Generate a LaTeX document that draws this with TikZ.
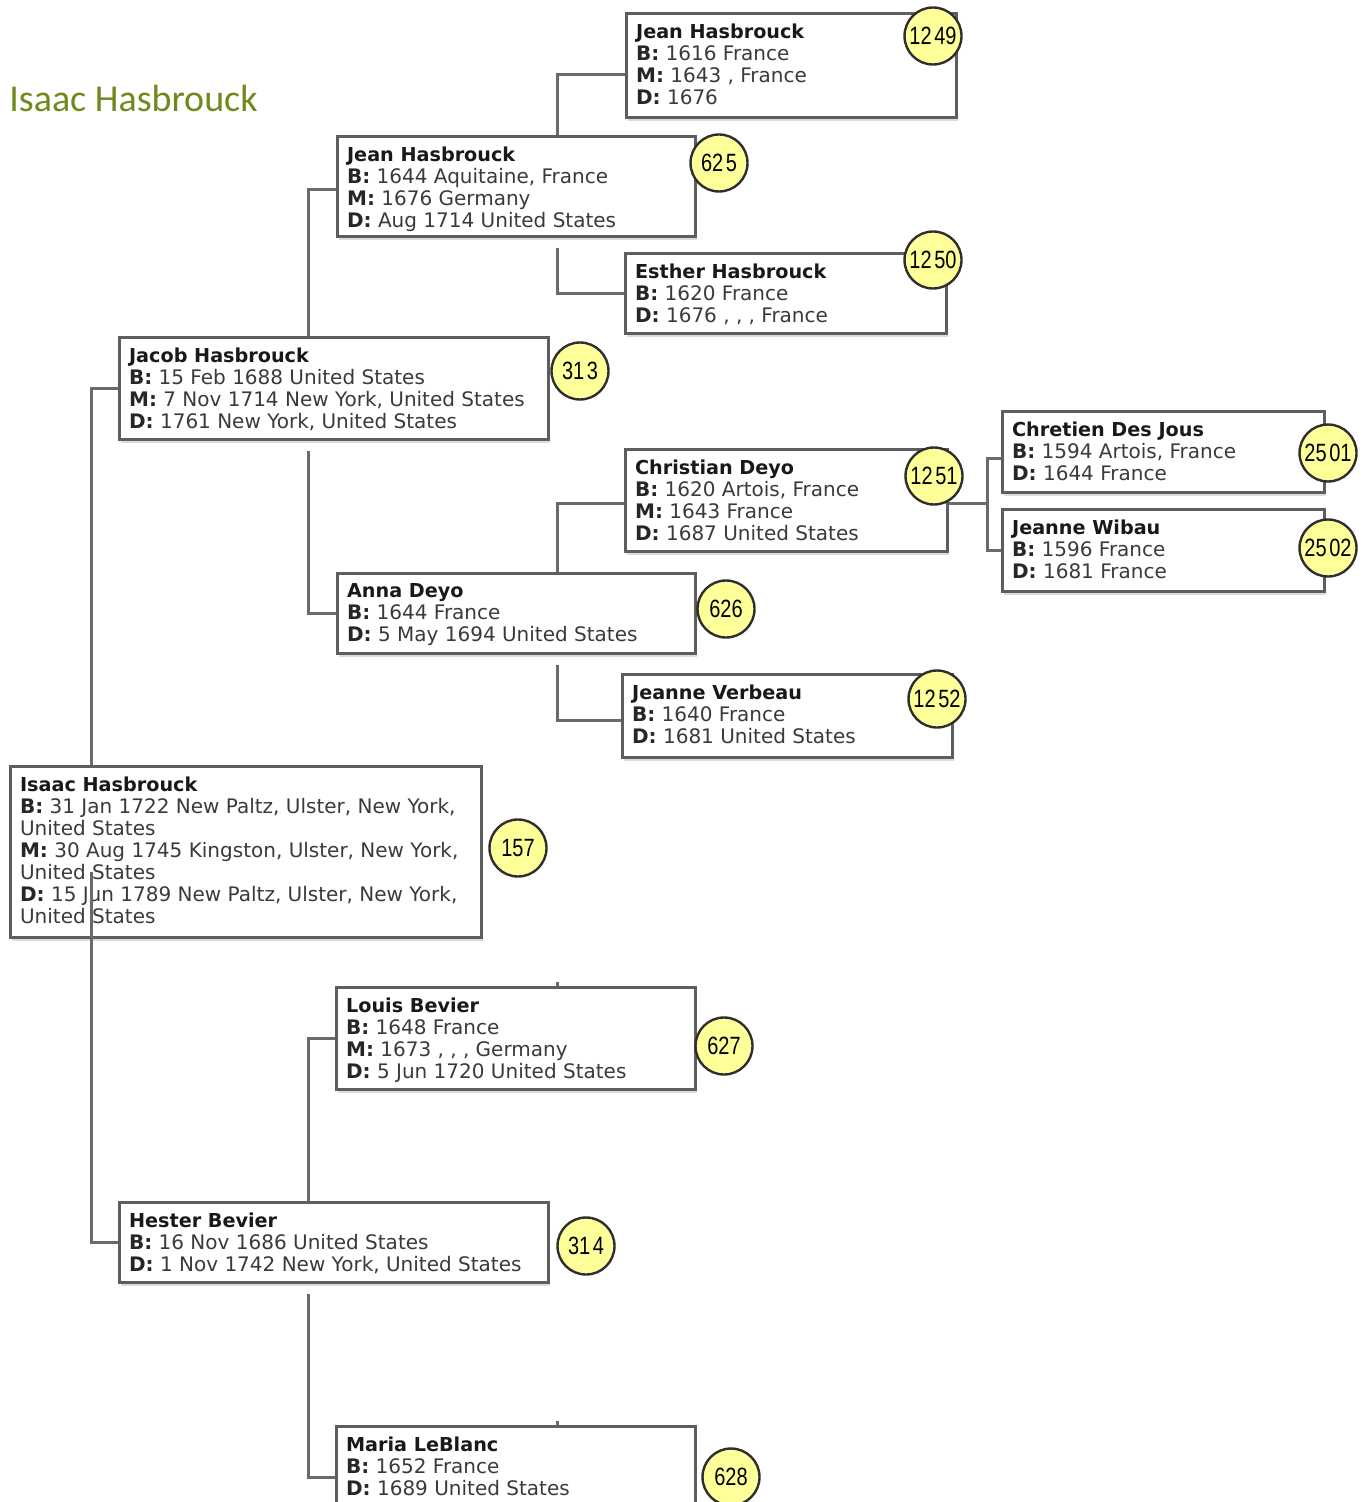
\documentclass[tikz,border=0pt]{standalone}
\usepackage{fontspec}
\usepackage{graphicx}
\setmainfont{DejaVu Sans}
\newfontfamily\titlefont{Carlito}
\newfontfamily\numfont{Liberation Sans}
\usetikzlibrary{shadows}
\definecolor{boxline}{HTML}{5E5E5E}
\definecolor{connline}{HTML}{6A6A6A}
\definecolor{badgefill}{HTML}{FFFF99}
\definecolor{badgeline}{HTML}{2E2E2E}
\definecolor{titlegreen}{HTML}{6F8A1C}
\definecolor{bodytext}{HTML}{3A3A3A}
\newcommand\pinfo[3]{\parbox[c][#2][t]{#1}{\raggedright\leftskip=4.8pt\baselineskip=11pt\vspace*{5pt}\color{bodytext}#3}}
\newcommand\pname[1]{{\fontsize{9.6}{11}\selectfont\bfseries\color{black!90}#1}\\}
\newcommand\lbl[1]{{\bfseries\color{black!85}#1:}~}
\newcommand\gap{\kern1.6pt}
\newcommand\bnum[1]{\scalebox{0.8}[1]{#1}}
\tikzset{
  person/.style={draw=boxline, line width=1.5pt, fill=white, inner sep=0pt, anchor=north west,
    font=\fontsize{10}{11}\selectfont,
    general shadow={fill=black!14, shadow xshift=0.8pt, shadow yshift=-1.6pt}},
  badge/.style={circle, draw=badgeline, line width=1.2pt, fill=badgefill, minimum size=28.5pt,
    inner sep=0pt, font=\numfont\fontsize{12.5}{12.5}\selectfont},
  conn/.style={draw=connline, line width=1.5pt},
}
\begin{document}
\begin{tikzpicture}[x=0.5pt, y=-0.5pt]
\fill[white] (0,0) rectangle (1367,1502);
\clip (0,0) rectangle (1367,1502);

\node[anchor=base west, text=titlegreen, font=\titlefont\fontsize{19}{19}\selectfont, inner sep=0pt] (title) at (9,112) {Isaac Hasbrouck};

% person boxes
\node[person] (n1249) at (625,12) {\pinfo{165pt}{52pt}{\pname{Jean Hasbrouck}\lbl{B}1616 France\\\lbl{M}1643 , France\\\lbl{D}1676}};
\node[person] (n625) at (336,135) {\pinfo{179pt}{50pt}{\pname{Jean Hasbrouck}\lbl{B}1644 Aquitaine, France\\\lbl{M}1676 Germany\\\lbl{D}Aug 1714 United States}};
\node[person] (n1250) at (624,252) {\pinfo{160.5pt}{40pt}{\pname{Esther Hasbrouck}\lbl{B}1620 France\\\lbl{D}1676 , , , France}};
\node[person] (n313) at (118,336) {\pinfo{214.5pt}{51pt}{\pname{Jacob Hasbrouck}\lbl{B}15 Feb 1688 United States\\\lbl{M}7 Nov 1714 New York, United States\\\lbl{D}1761 New York, United States}};
\node[person] (n1251) at (624,448) {\pinfo{161pt}{51pt}{\pname{Christian Deyo}\lbl{B}1620 Artois, France\\\lbl{M}1643 France\\\lbl{D}1687 United States}};
\node[person] (n2501) at (1001,410) {\pinfo{161pt}{40.5pt}{\pname{Chretien Des Jous}\lbl{B}1594 Artois, France\\\lbl{D}1644 France}};
\node[person] (n2502) at (1001,508) {\pinfo{161pt}{41pt}{\pname{Jeanne Wibau}\lbl{B}1596 France\\\lbl{D}1681 France}};
\node[person] (n626) at (336,572) {\pinfo{179pt}{40pt}{\pname{Anna Deyo}\lbl{B}1644 France\\\lbl{D}5 May 1694 United States}};
\node[person] (n1252) at (621,673) {\pinfo{165pt}{41.5pt}{\pname{Jeanne Verbeau}\lbl{B}1640 France\\\lbl{D}1681 United States}};
\node[person] (n157) at (9,765) {\pinfo{235.5pt}{85.5pt}{\pname{Isaac Hasbrouck}\lbl{B}31 Jan 1722 New Paltz, Ulster, New York,\\United States\\\lbl{M}30 Aug 1745 Kingston, Ulster, New York,\\United States\\\lbl{D}15 Jun 1789 New Paltz, Ulster, New York,\\United States}};
\node[person] (n627) at (335,986) {\pinfo{179.5pt}{51pt}{\pname{Louis Bevier}\lbl{B}1648 France\\\lbl{M}1673 , , , Germany\\\lbl{D}5 Jun 1720 United States}};
\node[person] (n314) at (118,1201) {\pinfo{214.5pt}{40pt}{\pname{Hester Bevier}\lbl{B}16 Nov 1686 United States\\\lbl{D}1 Nov 1742 New York, United States}};
\node[person] (n628) at (335,1425) {\pinfo{179.5pt}{51pt}{\pname{Maria LeBlanc}\lbl{B}1652 France\\\lbl{D}1689 United States}};

% connectors
\draw[conn] ([shift={(221,0)}]n625.north west) |- ([shift={(0,9)}]n1249.west);
\draw[conn] ([shift={(221,10)}]n625.south west) |- (n1250.west);
\draw[conn] ([shift={(190,0)}]n313.north west) |- ([shift={(0,3)}]n625.west);
\draw[conn] ([shift={(190,10)}]n313.south west) |- (n626.west);
\draw[conn] ([shift={(221,0)}]n626.north west) |- ([shift={(0,3)}]n1251.west);
\draw[conn] ([shift={(221,10)}]n626.south west) |- ([shift={(0,4)}]n1252.west);
\draw[conn] ([shift={(0,3)}]n1251.east) -- ++(38,0) coordinate (fork);
\draw[conn] ([shift={(0,6.5)}]n2501.west) -| (fork) |- (n2502.west);
\draw[conn] ([shift={(82,0)}]n157.north west) |- (n313.west);
\draw[conn] ([shift={(190,0)}]n314.north west) |- (n627.west);
\draw[conn] ([shift={(190,10)}]n314.south west) |- (n628.west);
\draw[conn] ([shift={(222,0)}]n627.north west) -- ++(0,-4);
\draw[conn] ([shift={(222,0)}]n628.north west) -- ++(0,-4);
\draw[conn] ([shift={(82,107)}]n157.north west) |- (n314.west);

% badges
\node[badge] (c1249) at (933,36) {\bnum{12\gap49}};
\node[badge] (c625) at (719,163) {\bnum{62\gap5}};
\node[badge] (c1250) at (933,260) {\bnum{12\gap50}};
\node[badge] (c313) at (580,371) {\bnum{31\gap3}};
\node[badge] (c1251) at (934,476) {\bnum{12\gap51}};
\node[badge] (c2501) at (1328,453) {\bnum{25\gap01}};
\node[badge] (c2502) at (1328,548) {\bnum{25\gap02}};
\node[badge] (c626) at (726,609) {\bnum{626}};
\node[badge] (c1252) at (937,699) {\bnum{12\gap52}};
\node[badge] (c157) at (518,848) {\bnum{157}};
\node[badge] (c627) at (724,1046) {\bnum{627}};
\node[badge] (c314) at (586,1246) {\bnum{31\gap4}};
\node[badge] (c628) at (731,1477) {\bnum{628}};
\end{tikzpicture}
\end{document}
